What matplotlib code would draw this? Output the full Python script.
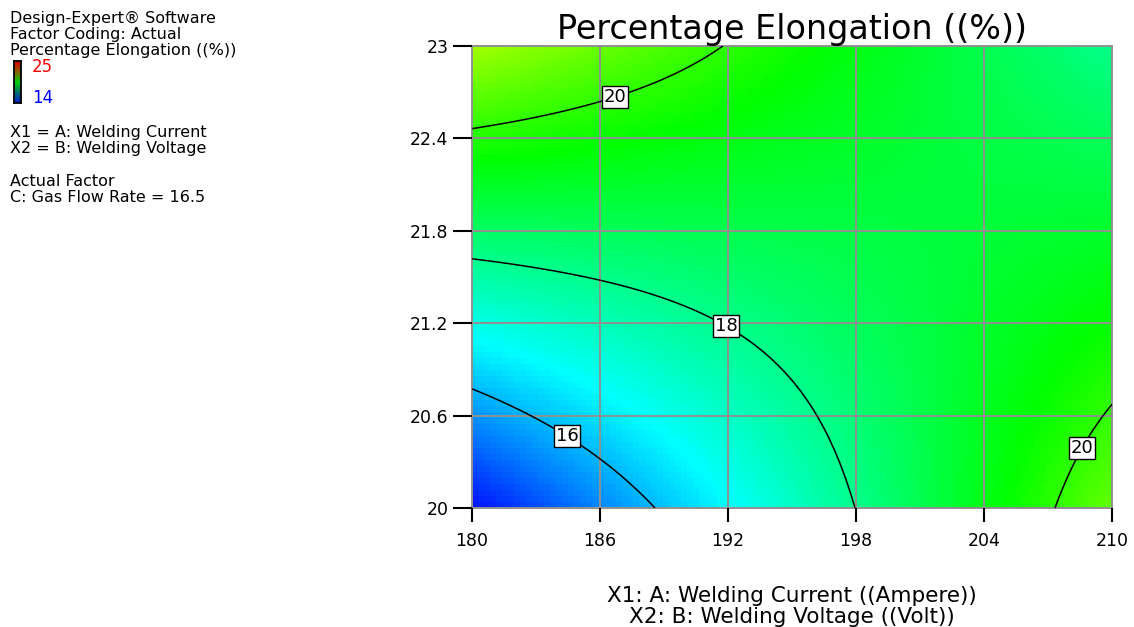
import numpy as np
import matplotlib
matplotlib.use("Agg")
import matplotlib.pyplot as plt
from matplotlib.colors import LinearSegmentedColormap

plt.rcParams['font.family'] = ['DejaVu Sans']

# Factor ranges (actual units)
current_range = [180, 210]      # A: Welding Current (Ampere)
voltage_range = [20, 23]        # B: Welding Voltage (Volt)
x_ticks = [180, 186, 192, 198, 204, 210]
y_ticks = [20, 20.6, 21.2, 21.8, 22.4, 23]
y_tick_labels = ["20", "20.6", "21.2", "21.8", "22.4", "23"]

# Quadratic model in coded factors: b0, A, B, AB, A^2, B^2
coef_names = ["b0", "A", "B", "AB", "A2", "B2"]
coef_values = [18.51, 0.79, 1.14, -2.41, 0.0, 0.0]

contour_levels = [16, 18, 20]
# Label anchor points for the contour values (actual units)
label_points = [(184.6, 20.50), (192.0, 21.20), (186.6, 22.72), (208.45, 20.40)]

scale_min, scale_max = 14, 25

def response(cur, volt):
    a = (cur - 195.0) / 15.0
    b = (volt - 21.5) / 1.5
    c = dict(zip(coef_names, coef_values))
    return (c["b0"] + c["A"] * a + c["B"] * b + c["AB"] * a * b
            + c["A2"] * a ** 2 + c["B2"] * b ** 2)

fig = plt.figure(figsize=(11.34, 6.27), dpi=100)
ax = fig.add_axes([472 / 1134, 1 - 508 / 627, 640 / 1134, 462 / 627])

surface_cmap = LinearSegmentedColormap.from_list(
    "de_surface", ["#0000ff", "#00ffff", "#00ff00", "#ffff00", "#ff0000"])

# Coloured surface, drawn as a grid of small cells
xe = np.linspace(*current_range, 108)
ye = np.linspace(*voltage_range, 78)
xc = 0.5 * (xe[:-1] + xe[1:])
yc = 0.5 * (ye[:-1] + ye[1:])
Z = response(*np.meshgrid(xc, yc))
ax.pcolormesh(xe, ye, Z, cmap=surface_cmap, vmin=scale_min, vmax=scale_max,
              shading="flat", rasterized=True, zorder=0)

# Contour lines
xf = np.linspace(*current_range, 300)
yf = np.linspace(*voltage_range, 300)
XF, YF = np.meshgrid(xf, yf)
cs = ax.contour(XF, YF, response(XF, YF), levels=contour_levels,
                colors="black", linewidths=1.1, zorder=3)
labels = ax.clabel(cs, inline=False, fmt="%d", fontsize=13,
                   manual=label_points, zorder=5)
for t in labels:
    t.set_rotation(0)
    t.set_bbox(dict(boxstyle="square,pad=0.1", fc="white", ec="black", lw=1.0))

ax.set_xlim(*current_range)
ax.set_ylim(*voltage_range)
ax.set_xticks(x_ticks)
ax.set_yticks(y_ticks)
ax.set_yticklabels(y_tick_labels)
ax.grid(True, color="#909090", lw=1.4, zorder=2)
ax.set_axisbelow(False)
for s in ax.spines.values():
    s.set_color("#909090")
    s.set_linewidth(1.4)
ax.tick_params(direction="out", width=1.5, color="black", labelsize=12.5)
ax.tick_params(axis="x", length=10, pad=7)
ax.tick_params(axis="y", length=14, pad=3)

ax.set_title("Percentage Elongation ((%))", fontsize=24, pad=1)
fig.text(792 / 1134, 1 - 596 / 627, "X1: A: Welding Current ((Ampere))",
         ha="center", va="center", fontsize=15.5)
fig.text(792 / 1134, 1 - 617 / 627, "X2: B: Welding Voltage ((Volt))",
         ha="center", va="center", fontsize=15.5)

# Side information block
info_lines = [
    (18, "Design-Expert® Software"),
    (34, "Factor Coding: Actual"),
    (50, "Percentage Elongation ((%))"),
    (132, "X1 = A: Welding Current"),
    (148, "X2 = B: Welding Voltage"),
    (182, "Actual Factor"),
    (198, "C: Gas Flow Rate = 16.5"),
]
for ypix, txt in info_lines:
    fig.text(10 / 1134, 1 - ypix / 627, txt, ha="left", va="center", fontsize=11.5)

fig.text(32 / 1134, 1 - 67 / 627, str(scale_max), color="#ff0000",
         ha="left", va="center", fontsize=12)
fig.text(32 / 1134, 1 - 98 / 627, str(scale_min), color="#0000ff",
         ha="left", va="center", fontsize=12)

legend_cmap = LinearSegmentedColormap.from_list(
    "de_legend", ["#0020d0", "#007070", "#00d000", "#8a6000", "#e00000"])
cax = fig.add_axes([14 / 1134, 1 - 103 / 627, 7 / 1134, 42 / 627])
cax.imshow(np.linspace(scale_min, scale_max, 64)[::-1, None], aspect="auto",
           cmap=legend_cmap, vmin=scale_min, vmax=scale_max)
cax.set_xticks([])
cax.set_yticks([])
for s in cax.spines.values():
    s.set_color("black")
    s.set_linewidth(1.3)

fig.savefig("out.png", dpi=100)
